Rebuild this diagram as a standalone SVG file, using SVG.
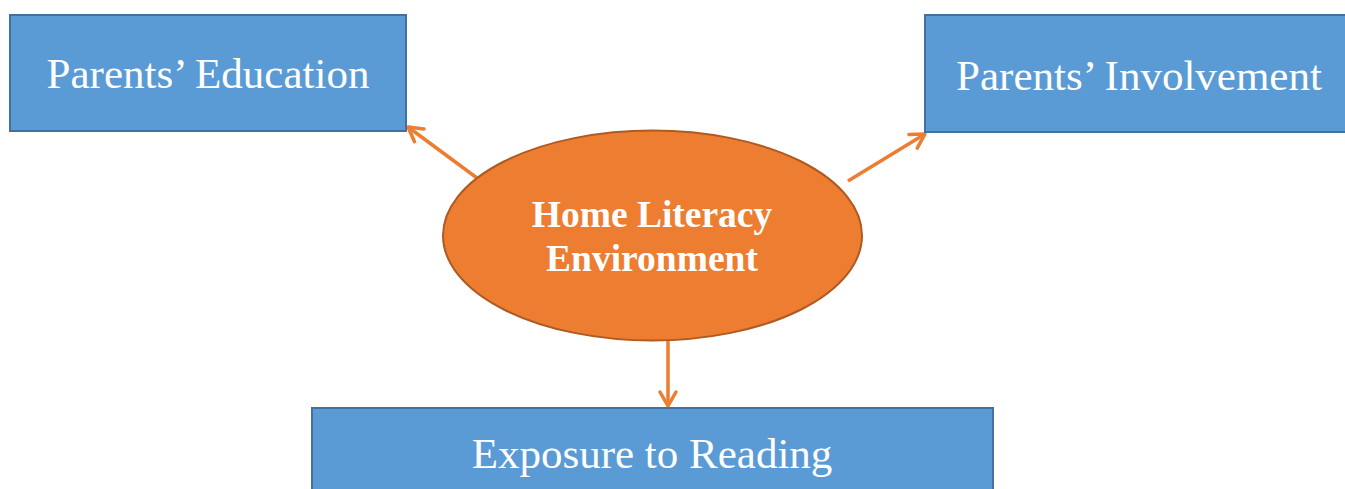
<svg xmlns="http://www.w3.org/2000/svg" width="1345" height="489" viewBox="0 0 1345 489">
<style>
.box{fill:#5B9BD5;stroke:#41719C;stroke-width:2}
.lbl{font-family:"Liberation Serif","Times New Roman",serif;font-size:43px;fill:#fff;text-anchor:middle}
.hub{fill:#ED7D31;stroke:#AE5A21;stroke-width:2}
.hubt{font-family:"Liberation Serif","Times New Roman",serif;font-size:37.5px;font-weight:bold;fill:#fff;text-anchor:middle}
.conn{stroke:#ED7D31;stroke-width:3.5;fill:none}
</style>
<defs>
<marker id="arr" markerUnits="userSpaceOnUse" markerWidth="30" markerHeight="30" viewBox="-20 -15 30 30" refX="0" refY="0" orient="auto">
<path d="M-14,-8 L0,0 L-14,8" fill="none" stroke="#ED7D31" stroke-width="3.5" stroke-linecap="round" stroke-linejoin="round"/>
</marker>
</defs>
<g id="connectors">
<line class="conn" x1="477" y1="178" x2="408" y2="127" marker-end="url(#arr)"/>
<line class="conn" x1="848" y1="181" x2="925" y2="134" marker-end="url(#arr)"/>
<line class="conn" x1="668" y1="341" x2="668" y2="406" marker-end="url(#arr)"/>
</g>
<g id="node-education">
<rect class="box" x="10" y="15" width="396" height="116"/>
<text class="lbl" x="208" y="88">Parents’ Education</text>
</g>
<g id="node-involvement">
<rect class="box" x="925" y="15" width="428" height="117"/>
<text class="lbl" x="1139" y="90">Parents’ Involvement</text>
</g>
<g id="node-exposure">
<rect class="box" x="312" y="408" width="681" height="100"/>
<text class="lbl" x="652" y="468">Exposure to Reading</text>
</g>
<g id="node-hle">
<ellipse class="hub" cx="652.5" cy="235.5" rx="209.5" ry="105"/>
<text class="hubt" x="652" y="227">Home Literacy</text>
<text class="hubt" x="652" y="271">Environment</text>
</g>
</svg>
